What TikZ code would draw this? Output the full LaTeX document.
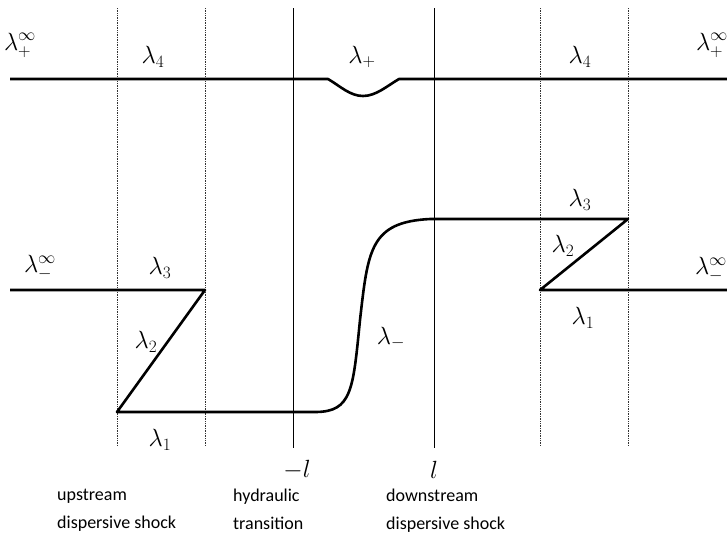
\documentclass[tikz,border=0pt]{standalone}
\usepackage{fontspec}
\setmainfont{Carlito}
\usetikzlibrary{positioning}

\begin{document}
\begin{tikzpicture}[x=1pt, y=-1pt,
    wave/.style={line width=2.6pt, line join=round},
    bound/.style={line width=0.8pt},
    fan/.style={densely dotted, line width=0.7pt, black!80},
    lab/.style={font=\fontsize{24}{26}\selectfont, inner sep=1pt},
    caption/.style={font=\fontsize{18}{28}\selectfont, align=left, anchor=north west, inner sep=0pt}
]
    \useasboundingbox (0,0) rectangle (727,546);

    % Boundaries of the transition region
    \coordinate (lt) at (293,8);   \coordinate (lb) at (293,448);
    \coordinate (rt) at (434,8);   \coordinate (rb) at (434,448);
    \draw[bound] (lt) -- (lb);
    \draw[bound] (rt) -- (rb);

    % Edges of the dispersive shocks
    \foreach \xx/\nm in {117/ua, 205/ub, 540/da, 628/db}{
        \coordinate (\nm t) at (\xx,8);
        \coordinate (\nm b) at (\xx,445);
        \draw[fan] (\nm t) -- (\nm b);
    }

    % Upper branch
    \coordinate (p0) at (10,79);
    \coordinate (p1) at (328,79);
    \coordinate (p2) at (363,96);
    \coordinate (p3) at (399,79);
    \coordinate (p4) at (727,79);
    \draw[wave] (p0) -- (p1) .. controls (340,86) and (350,96) .. (p2)
        .. controls (376,96) and (387,86) .. (p3) -- (p4);

    % Lower branch
    \coordinate (m0) at (10,290);
    \coordinate (m1) at (205,290);
    \coordinate (m2) at (117,412);
    \coordinate (m3) at (315,412);
    \coordinate (m4) at (360,320);
    \coordinate (m5) at (430,219);
    \coordinate (m6) at (628,219);
    \coordinate (m7) at (540,290);
    \coordinate (m8) at (727,290);
    \draw[wave] (m0) -- (m1) -- (m2) -- (m3)
        .. controls (352,412) and (353,390) .. (m4)
        .. controls (368,250) and (370,222) .. (m5)
        -- (m6) -- (m7) -- (m8);

    % Labels
    \node[lab] (lpl) at (20,45) {$\lambda_+^\infty$};
    \node[lab] (lpr) at (712,45) {$\lambda_+^\infty$};
    \node[lab] (l4a) at (153,57) {$\lambda_4$};
    \node[lab] (l4b) at (580,57) {$\lambda_4$};
    \node[lab] (lp) at (362,57) {$\lambda_+$};
    \node[lab] (lml) at (40,268) {$\lambda_-^\infty$};
    \node[lab] (lmr) at (711,270) {$\lambda_-^\infty$};
    \node[lab] (l3a) at (160,268) {$\lambda_3$};
    \node[lab] (l3b) at (580,200) {$\lambda_3$};
    \node[lab] (l2a) at (146,342) {$\lambda_2$};
    \node[lab] (l2b) at (563,246) {$\lambda_2$};
    \node[lab] (l1a) at (160,440) {$\lambda_1$};
    \node[lab] (l1b) at (583,318) {$\lambda_1$};
    \node[lab] (lm) at (391,338) {$\lambda_-$};
    \node[lab] (xl) at (297,470) {$-l$};
    \node[lab] (xr) at (434,470) {$l$};

    % Region names
    \node[caption] (up) at (57,489) {upstream\\dispersive shock};
    \node[caption] (hy) at (233,489) {hydraulic\\transition};
    \node[caption] (dn) at (386,489) {downstream\\dispersive shock};
\end{tikzpicture}
\end{document}
